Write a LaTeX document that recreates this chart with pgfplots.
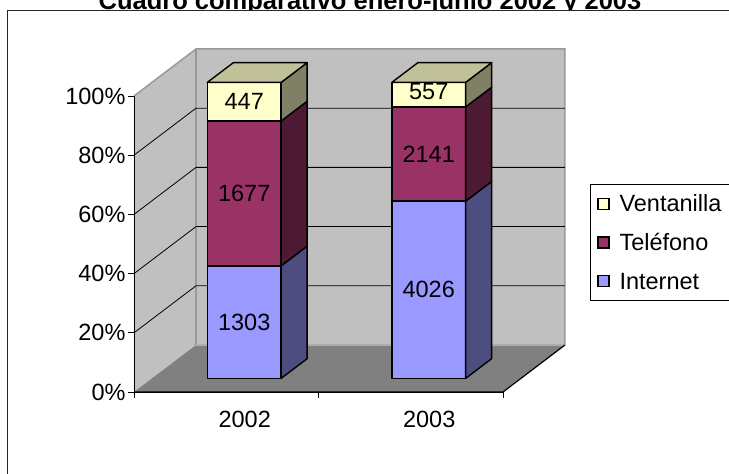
\documentclass[border=0pt]{standalone}
\usepackage{pgfplots}
\pgfplotsset{compat=1.18}
\usepackage{fontspec}
\setmainfont{Liberation Sans}
\definecolor{wall}{HTML}{C0C0C0}
\definecolor{floorc}{HTML}{808080}
\definecolor{edgegray}{HTML}{999999}
\definecolor{intF}{HTML}{9999FF}
\definecolor{intS}{HTML}{4D4D80}
\definecolor{telF}{HTML}{993366}
\definecolor{telS}{HTML}{4D1A33}
\definecolor{venF}{HTML}{FFFFCC}
\definecolor{venS}{HTML}{808066}
\definecolor{venT}{HTML}{C0C099}
\newcommand{\lbl}{\fontsize{23.5}{28}\selectfont}
\newcommand{\lstrut}{\vphantom{Tél}}
% bar segment: #1 category centre, #2 lower %, #3 upper %, #4 front colour, #5 side colour
\newcommand{\bseg}[5]{%
 \pgfmathsetmacro\xL{#1-0.2+0.0975}%
 \pgfmathsetmacro\xR{#1+0.2+0.0975}%
 \pgfmathsetmacro\xB{#1+0.2+0.2386}%
 \pgfmathsetmacro\yA{#2+4.6}%
 \pgfmathsetmacro\yB{#3+4.6}%
 \pgfmathsetmacro\yC{#2+11.27}%
 \pgfmathsetmacro\yD{#3+11.27}%
 \edef\doit{%
 \noexpand\addplot[forget plot, fill=#4, draw=black, line width=1.4pt, line join=round] coordinates {(\xL,\yA) (\xR,\yA) (\xR,\yB) (\xL,\yB)} -- cycle;
 \noexpand\addplot[forget plot, fill=#5, draw=black, line width=1.4pt, line join=round] coordinates {(\xR,\yA) (\xB,\yC) (\xB,\yD) (\xR,\yB)} -- cycle;}%
 \doit}
% top face: #1 category centre, #2 colour
\newcommand{\btop}[2]{%
 \pgfmathsetmacro\xL{#1-0.2+0.0975}%
 \pgfmathsetmacro\xR{#1+0.2+0.0975}%
 \pgfmathsetmacro\xB{#1+0.2+0.2386}%
 \pgfmathsetmacro\xC{#1-0.2+0.2386}%
 \edef\doit{%
 \noexpand\addplot[forget plot, fill=#2, draw=black, line width=1.4pt, line join=round] coordinates {(\xL,104.6) (\xR,104.6) (\xB,111.27) (\xC,111.27)} -- cycle;}%
 \doit}
\begin{document}
\begin{tikzpicture}
% title (partly cut by the page top, as in the reference)
\node[anchor=base, font=\bfseries\fontsize{25.5}{30}\selectfont, inner sep=0pt] at (370pt,-9.5pt) {Cuadro comparativo enero-junio 2002 y 2003};
\fill[white] (7.5pt,-10.5pt) rectangle (800pt,-600pt);
\draw[line width=1.3pt, black!85] (7.5pt,-600pt) -- (7.5pt,-10.5pt) -- (800pt,-10.5pt);
\begin{axis}[
  x=184.5pt, y=2.96pt,
  xmin=-0.5, xmax=1.5, ymin=0, ymax=100,
  at={(134pt,-392pt)}, anchor=south west,
  clip=false, axis on top,
  axis x line*=bottom, axis y line*=left,
  axis line style={black, line width=0.9pt},
  ytick={0,20,40,60,80,100},
  yticklabel={\pgfmathprintnumber{\tick}\%},
  /pgf/number format/assume math mode=true,
  xtick={-0.5,0.5,1.5}, xticklabels={},
  extra x ticks={0.1,1.1}, extra x tick labels={2002,2003},
  extra x tick style={major tick length=0pt, tick label style={yshift=-16pt}},
  tick align=outside, major tick length=6pt,
  tick style={black, line width=0.9pt},
  tick label style={font=\lbl},
  yticklabel style={xshift=1pt},
  legend image code/.code={\draw[#1, draw=black, line width=1.2pt] (0pt,-5.5pt) rectangle (11pt,5.5pt); \path (19pt,0pt);},
  legend style={at={(1.2358,0.703)}, anchor=north west, draw=black, line width=0.9pt,
     fill=white, font=\lbl, row sep=16pt, inner xsep=7pt, inner ysep=8pt,
     nodes={inner sep=2pt}},
  legend cell align=left,
]
% walls and floor
\addplot[forget plot, fill=wall, draw=none] coordinates {(-0.5,0) (-0.164,15.88) (-0.164,115.88) (-0.5,100)} -- cycle;
\addplot[forget plot, fill=wall, draw=none] coordinates {(-0.164,15.88) (1.836,15.88) (1.836,115.88) (-0.164,115.88)} -- cycle;
\addplot[forget plot, fill=floorc, draw=none] coordinates {(-0.5,0) (1.5,0) (1.836,15.88) (-0.164,15.88)} -- cycle;
% wall edges
\addplot[forget plot, edgegray, line width=1.5pt] coordinates {(-0.5,100) (-0.164,115.88) (1.836,115.88) (1.836,15.88)};
\addplot[forget plot, edgegray, line width=2pt] coordinates {(-0.164,15.88) (-0.164,115.88)};
\addplot[forget plot, edgegray!80, line width=1.2pt] coordinates {(-0.164,15.88) (1.836,15.88)};
\addplot[forget plot, black, line width=1.2pt] coordinates {(-0.5,0) (1.5,0) (1.836,15.88)};
% gridlines
\addplot[forget plot, black, line width=0.8pt] coordinates {(-0.5,20) (-0.164,35.88) (1.836,35.88)};
\addplot[forget plot, black, line width=0.8pt] coordinates {(-0.5,40) (-0.164,55.88) (1.836,55.88)};
\addplot[forget plot, black, line width=0.8pt] coordinates {(-0.5,60) (-0.164,75.88) (1.836,75.88)};
\addplot[forget plot, black, line width=0.8pt] coordinates {(-0.5,80) (-0.164,95.88) (1.836,95.88)};
% bars: 2002 (1303, 1677, 447) and 2003 (4026, 2141, 557) as shares of 100%
\bseg{0}{0}{38.02}{intF}{intS}
\bseg{0}{38.02}{86.96}{telF}{telS}
\bseg{0}{86.96}{100}{venF}{venS}
\bseg{1}{0}{59.88}{intF}{intS}
\bseg{1}{59.88}{91.72}{telF}{telS}
\bseg{1}{91.72}{100}{venF}{venS}
\node[font=\lbl] at (axis cs:0.0975,23.61) {1303};
\node[font=\lbl] at (axis cs:0.0975,67.09) {1677};
\node[font=\lbl] at (axis cs:0.0975,98.08) {447};
\node[font=\lbl] at (axis cs:1.0975,34.54) {4026};
\node[font=\lbl] at (axis cs:1.0975,80.40) {2141};
\node[font=\lbl] at (axis cs:1.0975,101.4) {557};
\btop{0}{venT}
\btop{1}{venT}
\addlegendimage{fill=venF}
\addlegendentry{\lstrut Ventanilla\hspace*{30pt}}
\addlegendimage{fill=telF}
\addlegendentry{\lstrut Teléfono}
\addlegendimage{fill=intF}
\addlegendentry{\lstrut Internet}
\end{axis}
\pgfresetboundingbox
\useasboundingbox (0pt,0pt) rectangle (729pt,-474pt);
\end{tikzpicture}
\end{document}
